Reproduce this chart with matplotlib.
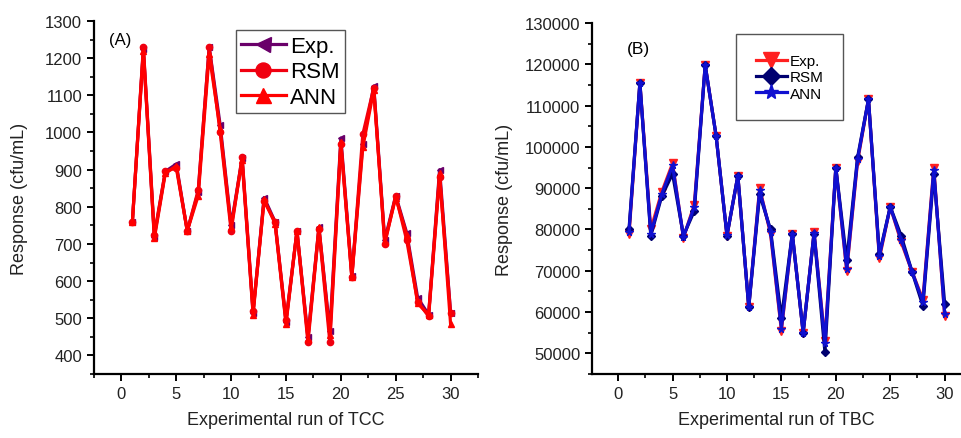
import matplotlib

matplotlib.use("Agg")
import matplotlib.pyplot as plt
from matplotlib.ticker import MultipleLocator

plt.rcParams["font.family"] = ["Liberation Sans", "DejaVu Sans"]

runs = list(range(1, 31))

# TCC panel (A)
tcc_exp = [760, 1225, 720, 895, 915, 735, 840, 1230, 1020, 750, 930, 515, 825, 760, 490,
           735, 450, 745, 465, 985, 615, 970, 1125, 710, 830, 730, 555, 510, 900, 515]
tcc_rsm = [760, 1230, 725, 895, 905, 735, 845, 1230, 1000, 735, 935, 520, 815, 760, 495,
           735, 435, 740, 435, 970, 610, 995, 1120, 700, 830, 710, 545, 505, 880, 515]
tcc_ann = [760, 1220, 715, 890, 910, 735, 830, 1210, 1010, 745, 925, 510, 820, 755, 485,
           735, 445, 745, 455, 975, 610, 960, 1115, 705, 825, 725, 540, 510, 890, 485]

# TBC panel (B)
tbc_exp = [78800, 115500, 80000, 89000, 96000, 78000, 86000, 119800, 102700, 78500, 93000,
           61200, 90000, 79000, 55500, 79000, 55000, 79300, 53000, 95000, 70000, 96500,
           111500, 73000, 85500, 77000, 69800, 63000, 95000, 59000]
tbc_rsm = [80000, 115500, 78500, 88000, 93500, 78500, 84500, 119800, 102700, 78500, 93000,
           61200, 88500, 80000, 58500, 79000, 55000, 79000, 50300, 95000, 72500, 97500,
           111500, 74000, 85500, 78500, 69800, 61500, 93500, 62000]
tbc_ann = [79500, 115500, 79000, 88500, 95500, 78200, 85500, 119800, 102700, 78600, 93000,
           61200, 89500, 79500, 56000, 79000, 55000, 79200, 52500, 95000, 70500, 97000,
           111500, 73500, 85500, 77500, 69800, 62500, 94500, 59500]

fig = plt.figure(figsize=(9.61, 4.39), dpi=100)
ax1 = fig.add_axes([94 / 961, 64 / 439, 384 / 961, 353 / 439])
ax2 = fig.add_axes([592 / 961, 64 / 439, 369 / 961, 351 / 439])

lw = 2.3
ax1.plot(runs, tcc_exp, color="#6a006a", marker="<", ms=4.5, lw=lw, label="Exp.")
ax1.plot(runs, tcc_rsm, color="#f00010", marker="o", ms=4.5, lw=lw, label="RSM")
ax1.plot(runs, tcc_ann, color="#ff0000", marker="^", ms=4.5, lw=lw, label="ANN")

ax2.plot(runs, tbc_exp, color="#ff2020", marker="v", ms=5.5, lw=lw, label="Exp.")
ax2.plot(runs, tbc_rsm, color="#000070", marker="D", ms=4.5, lw=lw, label="RSM")
ax2.plot(runs, tbc_ann, color="#1010d0", marker="*", ms=5.5, lw=lw, label="ANN")

ax1.set_xlim(-2.5, 32.5)
ax1.set_ylim(350, 1300)
ax1.yaxis.set_major_locator(MultipleLocator(100))
ax1.yaxis.set_minor_locator(MultipleLocator(50))

ax2.set_xlim(-2.4, 31.5)
ax2.set_ylim(45000, 130000)
ax2.yaxis.set_major_locator(MultipleLocator(10000))
ax2.yaxis.set_minor_locator(MultipleLocator(5000))

for ax in (ax1, ax2):
    ax.xaxis.set_major_locator(MultipleLocator(5))
    ax.xaxis.set_minor_locator(MultipleLocator(2.5))
    ax.spines["top"].set_visible(False)
    ax.spines["right"].set_visible(False)
    ax.spines["left"].set_linewidth(1.6)
    ax.spines["bottom"].set_linewidth(1.6)
    ax.tick_params(which="major", length=5, width=1.4, labelsize=12, colors="black")
    ax.tick_params(which="minor", length=3, width=1.2)
    ax.tick_params(axis="x", labelcolor="#222222")
    ax.tick_params(axis="y", labelcolor="#222222")

ax1.set_ylabel("Response (cfu/mL)", fontsize=13, color="#222222", labelpad=12)
ax2.set_ylabel("Response (cfu/mL)", fontsize=13, color="#222222", labelpad=8)
ax1.set_xlabel("Experimental run of TCC", fontsize=13, color="#222222", labelpad=7)
ax2.set_xlabel("Experimental run of TBC", fontsize=13, color="#222222", labelpad=7)

ax1.text(0.04, 0.97, "(A)", transform=ax1.transAxes, fontsize=12, va="top")
ax2.text(0.095, 0.95, "(B)", transform=ax2.transAxes, fontsize=12.5, va="top")

leg1 = ax1.legend(loc="upper left", bbox_to_anchor=(0.34, 1.005), fontsize=16,
                  markerscale=2.4, handlelength=2.0, handletextpad=0.2,
                  borderpad=0.25, labelspacing=0.2, fancybox=False, framealpha=1)
leg1.get_frame().set_edgecolor("#555555")

leg2 = ax2.legend(loc="upper left", bbox_to_anchor=(0.37, 0.99), fontsize=11,
                  markerscale=2.0, handlelength=2.0, handletextpad=0.2,
                  borderpad=1.3, labelspacing=0.15, fancybox=False, framealpha=1)
leg2.get_frame().set_edgecolor("#555555")

fig.savefig("out.png", dpi=100)
